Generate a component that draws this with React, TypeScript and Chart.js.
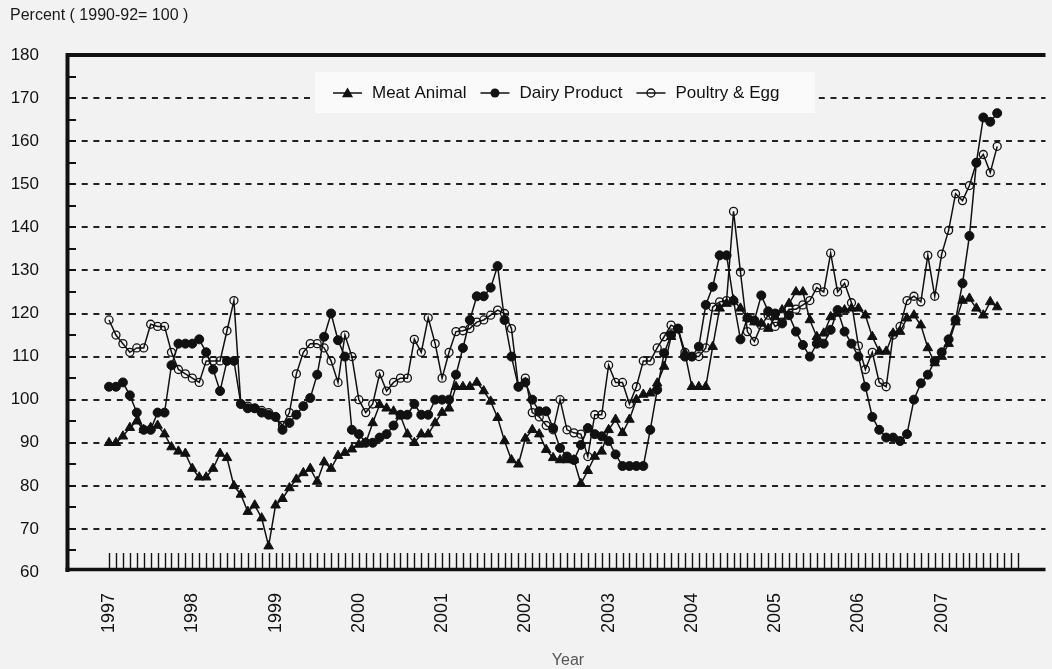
import React, { useEffect, useRef } from "react";
import { Chart, registerables } from "chart.js";

Chart.register(...registerables);

// ---------- data ----------
const seriesNames = ["Meat Animal", "Dairy Product", "Poultry & Egg"];
const yearLabels = ["1997", "1998", "1999", "2000", "2001", "2002", "2003", "2004", "2005", "2006", "2007"];
const monthsPerYear = 12;
const monthCount = yearLabels.length * monthsPerYear; // 132 monthly categories

const meatAnimal = [
  90, 90, 91.5, 93.5, 95, 93, 93.5, 94, 92, 89, 88, 87.5,
  84, 82, 82, 84, 87.5, 86.5, 80, 78, 74, 75.5, 72.5, 66,
  75.5, 77, 79.5, 81.5, 83, 84, 81, 85.5, 84, 87, 87.7, 88.5,
  89.6, 90, 94.6, 98.8, 98, 97.3, 96.2, 92, 90, 92, 92, 94.6,
  97, 98, 103, 103, 103, 104, 102, 99.6, 95.8, 90.4, 86, 85,
  91, 93, 92, 88.4, 86.5, 86, 86, 86, 80.5, 83.5, 86.8, 88,
  93, 95.4, 92.3, 95.4, 100, 101.2, 101.5, 103.8, 107.7, 114.6, 116.2, 110.8,
  103, 103, 103, 112.3, 121.2, 122.3, 123.1, 121.2, 118.9, 118, 117.7, 116.5,
  119.2, 120.8, 122.3, 125, 125, 118.5, 114.6, 115.4, 119.2, 120, 120.8, 121.2,
  121.2, 119.6, 114.6, 111.2, 111.2, 115.4, 115.8, 118.9, 119.6, 117.3, 112, 108.5,
  110, 113, 118, 123, 123.5, 121.2, 119.6, 122.7, 121.5,
];

const dairyProduct = [
  103, 103, 104, 101, 97, 93, 93, 97, 97, 108, 113, 113,
  113, 114, 111, 107, 102, 109, 109, 99, 98, 98, 97, 96.5,
  96, 93, 94.6, 96.5, 98.5, 100.4, 105.8, 114.6, 120, 113.8, 110, 93,
  92, 90, 90, 91.2, 92, 94, 96.5, 96.5, 99, 96.5, 96.5, 100,
  100, 100, 105.8, 112, 118.5, 124, 124, 126, 131, 118.5, 110, 103,
  104, 100, 97.3, 97.3, 93.4, 88.8, 86.8, 86, 89.5, 93.4, 92, 91.5,
  90.4, 87.3, 84.6, 84.6, 84.6, 84.6, 93, 102.3, 110.8, 115, 116.5, 110,
  110, 112.3, 122, 126.2, 133.5, 133.5, 123, 114, 119, 118.4, 124.2, 120.5,
  120, 117.7, 119.6, 115.8, 112.7, 110, 113, 113, 116.2, 120.8, 115.8, 113,
  110, 103, 96, 93, 91.2, 91.2, 90.4, 92, 100, 103.8, 105.8, 109,
  111, 114, 118.5, 127, 138, 155, 165.5, 164.5, 166.5,
];

const poultryEgg = [
  118.5, 115, 113, 111, 112, 112, 117.5, 117, 117, 111, 107, 106,
  105, 104, 109, 109, 109, 116, 123, 99, 98.5, 98, 97.5, 97,
  96, 94, 97, 106, 111, 113, 113, 112, 109, 104, 115, 110,
  100, 97, 99, 106, 102, 104, 105, 105, 114, 111, 119, 113,
  105, 111, 115.8, 116, 116.5, 118, 118.5, 119.6, 120.8, 120, 116.5, 103,
  105, 97, 96, 94, 93, 100, 93, 92.3, 92, 86.8, 96.5, 96.5,
  108, 104, 104, 99, 103, 109, 109, 112, 114.6, 117.3, 116.5, 111,
  110, 110, 112, 121.5, 122.7, 123, 143.7, 129.6, 115.8, 113.5, 117.3, 119.6,
  117, 118, 121, 121, 122, 123, 126, 125, 134, 125, 127, 122.5,
  112.5, 107, 111, 104, 103, 115, 117, 123, 124, 122.7, 133.5, 124,
  133.8, 139.3, 147.8, 146.2, 149.7, 155, 156.9, 152.7, 158.8,
];

const yMin = 60;
const yMax = 180;
const yStep = 10;
const yTitle = "Percent ( 1990-92= 100 )";
const xTitle = "Year";

// ---------- styles ----------
const W = 1052;
const H = 669;
const BG = "#f2f2f2";
const INK = "#111111";
const FONT = "'Liberation Sans', Arial, sans-serif";
const PLOT_LEFT = 68;
const PLOT_TOP = 55;
const PLOT_BOTTOM = 572;
const FIRST_TICK_PX = 109.3;
const PX_PER_MONTH = 6.985;
const X_MIN = -(FIRST_TICK_PX - PLOT_LEFT) / PX_PER_MONTH;
const X_MAX = X_MIN + (W - PLOT_LEFT) / PX_PER_MONTH;

const toPoints = (vals: number[]) => vals.map((v, i) => ({ x: i, y: v }));

function drawMarker(ctx: CanvasRenderingContext2D, kind: number, x: number, y: number) {
  ctx.beginPath();
  if (kind === 0) {
    const r = 5.5;
    ctx.moveTo(x, y - r);
    ctx.lineTo(x + r, y + r * 0.75);
    ctx.lineTo(x - r, y + r * 0.75);
    ctx.closePath();
    ctx.fillStyle = INK;
    ctx.fill();
  } else if (kind === 1) {
    ctx.arc(x, y, 4.5, 0, Math.PI * 2);
    ctx.fillStyle = INK;
    ctx.fill();
  } else {
    ctx.arc(x, y, 4, 0, Math.PI * 2);
    ctx.lineWidth = 1.3;
    ctx.strokeStyle = INK;
    ctx.stroke();
  }
}

const decorPlugin = {
  id: "decor",
  beforeDraw(chart: any) {
    const { ctx, width, height } = chart;
    ctx.save();
    ctx.fillStyle = BG;
    ctx.fillRect(0, 0, width, height);
    ctx.restore();
  },
  beforeDatasetsDraw(chart: any) {
    const { ctx, chartArea: ca, scales } = chart;
    const xs = scales.x;
    const ys = scales.y;
    ctx.save();
    // dashed horizontal grid
    ctx.strokeStyle = "#222";
    ctx.lineWidth = 2;
    ctx.setLineDash([6, 5.7]);
    for (let v = yMin + yStep; v < yMax; v += yStep) {
      const py = Math.round(ys.getPixelForValue(v));
      ctx.beginPath();
      ctx.moveTo(ca.left + 2, py);
      ctx.lineTo(ca.right, py);
      ctx.stroke();
    }
    ctx.setLineDash([]);
    // inner y ticks every 5
    ctx.strokeStyle = INK;
    ctx.lineWidth = 2;
    for (let v = yMin + yStep / 2; v < yMax; v += yStep / 2) {
      const py = Math.round(ys.getPixelForValue(v));
      ctx.beginPath();
      ctx.moveTo(ca.left, py);
      ctx.lineTo(ca.left + 8, py);
      ctx.stroke();
    }
    // inner x ticks, one per month
    ctx.lineWidth = 1.4;
    for (let i = 0; i < monthCount; i++) {
      const px = Math.round(xs.getPixelForValue(i)) + 0.5;
      ctx.beginPath();
      ctx.moveTo(px, ca.bottom - 19);
      ctx.lineTo(px, ca.bottom - 3);
      ctx.stroke();
    }
    // frame
    ctx.lineWidth = 4;
    ctx.beginPath();
    ctx.moveTo(ca.left - 0.5, ca.top - 2);
    ctx.lineTo(ca.left - 0.5, ca.bottom);
    ctx.moveTo(ca.left - 2.5, ca.top);
    ctx.lineTo(ca.right, ca.top);
    ctx.stroke();
    ctx.lineWidth = 3.5;
    ctx.beginPath();
    ctx.moveTo(ca.left - 2.5, ca.bottom - 2.5);
    ctx.lineTo(ca.right, ca.bottom - 2.5);
    ctx.stroke();
    ctx.restore();
  },
  afterDraw(chart: any) {
    const { ctx, chartArea: ca } = chart;
    ctx.save();
    // axis captions
    ctx.textBaseline = "middle";
    ctx.fillStyle = "#1a1a1a";
    ctx.font = `16px ${FONT}`;
    ctx.textAlign = "left";
    ctx.fillText(yTitle, 10, 16);
    ctx.fillStyle = "#555";
    ctx.textAlign = "center";
    ctx.fillText(xTitle, 568, 661);

    // legend
    const boxX = ca.left + 247;
    const boxY = ca.top + 17;
    ctx.fillStyle = "#fafafa";
    ctx.fillRect(boxX, boxY, 500, 41);
    const cy = boxY + 21;
    let x = boxX + 18;
    ctx.font = `17px ${FONT}`;
    ctx.textAlign = "left";
    seriesNames.forEach((name, k) => {
      ctx.strokeStyle = INK;
      ctx.lineWidth = 1.5;
      ctx.beginPath();
      ctx.moveTo(x, cy);
      ctx.lineTo(x + 29, cy);
      ctx.stroke();
      drawMarker(ctx, k, x + 14.5, cy);
      ctx.fillStyle = INK;
      ctx.fillText(name, x + 39, cy);
      x += 39 + ctx.measureText(name).width + 14;
    });
    ctx.restore();
  },
};

export default function App() {
  const canvasRef = useRef<HTMLCanvasElement | null>(null);

  useEffect(() => {
    const canvas = canvasRef.current;
    if (!canvas) return;
    Chart.defaults.font.family = FONT;

    const common = {
      borderColor: INK,
      borderWidth: 1.5,
      tension: 0,
      pointBorderColor: INK,
      fill: false,
    };

    const chart = new Chart(canvas, {
      type: "line",
      data: {
        datasets: [
          {
            ...common,
            label: seriesNames[0],
            data: toPoints(meatAnimal),
            pointStyle: "triangle",
            pointRadius: 5.5,
            pointBackgroundColor: INK,
            pointBorderWidth: 1,
          },
          {
            ...common,
            label: seriesNames[1],
            data: toPoints(dairyProduct),
            pointStyle: "circle",
            pointRadius: 4.5,
            pointBackgroundColor: INK,
            pointBorderWidth: 1,
          },
          {
            ...common,
            label: seriesNames[2],
            data: toPoints(poultryEgg),
            pointStyle: "circle",
            pointRadius: 4,
            pointBackgroundColor: "rgba(0,0,0,0)",
            pointBorderWidth: 1.3,
          },
        ],
      },
      options: {
        animation: false,
        responsive: false,
        maintainAspectRatio: false,
        events: [],
        layout: { padding: { top: PLOT_TOP, left: 0, right: 0, bottom: 0 } },
        plugins: {
          legend: { display: false },
          tooltip: { enabled: false },
          title: { display: false },
        },
        scales: {
          x: {
            type: "linear",
            min: X_MIN,
            max: X_MAX,
            grid: { display: false, drawTicks: false },
            border: { display: false },
            afterBuildTicks: (scale: any) => {
              scale.ticks = yearLabels.map((_, k) => ({ value: k * monthsPerYear }));
            },
            afterFit: (scale: any) => {
              scale.height = H - PLOT_BOTTOM;
            },
            ticks: {
              autoSkip: false,
              minRotation: 90,
              maxRotation: 90,
              padding: 21,
              color: INK,
              font: { size: 18, family: FONT },
              callback: (_v: any, index: number) => yearLabels[index] ?? "",
            },
          },
          y: {
            type: "linear",
            min: yMin,
            max: yMax,
            grid: { display: false, drawTicks: false },
            border: { display: false },
            afterFit: (scale: any) => {
              scale.width = PLOT_LEFT;
            },
            ticks: {
              stepSize: yStep,
              padding: 29,
              color: INK,
              font: { size: 17, family: FONT },
            },
          },
        },
      },
      plugins: [decorPlugin],
    } as any);

    return () => chart.destroy();
  }, []);

  return (
    <div style={{ position: "fixed", left: 0, top: 0, width: W, height: H, background: BG }}>
      <canvas ref={canvasRef} width={W} height={H} style={{ display: "block" }} />
    </div>
  );
}
